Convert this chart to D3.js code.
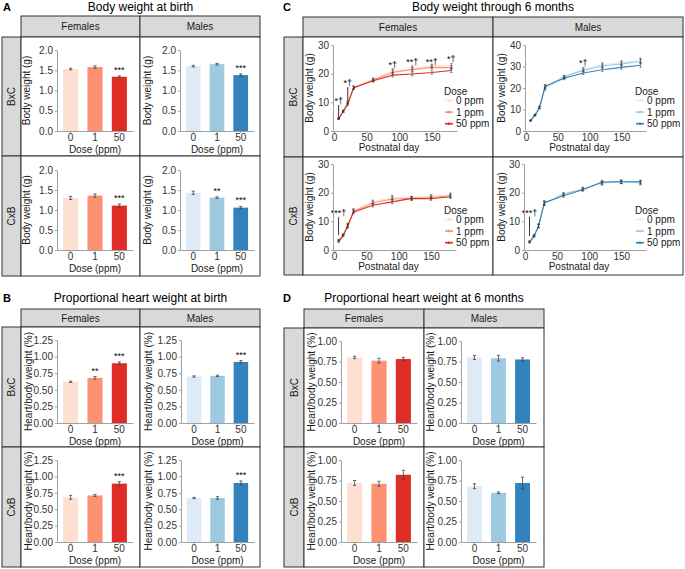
<!DOCTYPE html>
<html><head><meta charset="utf-8">
<script src="https://cdn.jsdelivr.net/npm/d3@7"></script>
<style>body{margin:0;background:#fff} svg{display:block;font-family:"Liberation Sans",Arial,sans-serif}</style>
</head><body><svg id="c" width="685" height="569"></svg>
<script>
// ---------------- DATA ----------------
const doses = ["0", "1", "50"];
const doseLabels = ["0 ppm", "1 ppm", "50 ppm"];
const sexes = ["Females", "Males"];
const strains = ["BxC", "CxB"];
const redColors = ["#fee0d2", "#fc9272", "#de2d26"];
const blueColors = ["#deebf7", "#9ecae1", "#3182bd"];

// A: body weight at birth (g)
const aBxCFemales = [1.53, 1.58, 1.34];
const aBxCFemalesErr = [0.02, 0.03, 0.02];
const aBxCFemalesSig = ["", "", "***"];
const aBxCMales = [1.60, 1.65, 1.38];
const aBxCMalesErr = [0.02, 0.02, 0.03];
const aBxCMalesSig = ["", "", "***"];
const aCxBFemales = [1.30, 1.36, 1.11];
const aCxBFemalesErr = [0.04, 0.04, 0.04];
const aCxBFemalesSig = ["", "", "***"];
const aCxBMales = [1.43, 1.31, 1.06];
const aCxBMalesErr = [0.04, 0.02, 0.03];
const aCxBMalesSig = ["", "**", "***"];
const aTicks = [0, 0.5, 1.0, 1.5, 2.0];

// B: proportional heart weight at birth (%)
const bBxCFemales = [0.62, 0.68, 0.90];
const bBxCFemalesErr = [0.01, 0.02, 0.02];
const bBxCFemalesSig = ["", "**", "***"];
const bBxCMales = [0.70, 0.71, 0.92];
const bBxCMalesErr = [0.01, 0.01, 0.02];
const bBxCMalesSig = ["", "", "***"];
const bCxBFemales = [0.68, 0.71, 0.89];
const bCxBFemalesErr = [0.03, 0.015, 0.03];
const bCxBFemalesSig = ["", "", "***"];
const bCxBMales = [0.67, 0.67, 0.90];
const bCxBMalesErr = [0.01, 0.02, 0.03];
const bCxBMalesSig = ["", "", "***"];
const bTicks = [0, 0.25, 0.5, 0.75, 1.0, 1.25];

// C: body weight through 6 months (g)
const days = [7, 14, 21, 30, 60, 90, 120, 150, 180];
const cBxCFemales0 = [4.4, 7.0, 10.2, 15.2, 18.0, 21.0, 22.0, 22.7, 22.8];
const cBxCFemales1 = [4.3, 6.9, 9.9, 15.0, 17.8, 20.5, 21.4, 22.2, 22.1];
const cBxCFemales50 = [4.2, 6.8, 9.3, 15.1, 17.5, 19.5, 19.9, 20.4, 21.1];
const cBxCFemalesErr = [0.2, 0.3, 0.5, 0.5, 0.5, 0.7, 0.7, 0.6, 0.7];
const cBxCMales0 = [4.9, 7.5, 11.0, 19.8, 25.0, 28.8, 30.8, 31.8, 32.9];
const cBxCMales1 = [4.9, 7.4, 11.0, 20.5, 25.3, 28.2, 30.2, 31.2, 32.3];
const cBxCMales50 = [4.8, 7.3, 10.7, 20.8, 24.5, 27.0, 28.5, 29.6, 30.6];
const cBxCMalesErr = [0.2, 0.3, 0.5, 0.8, 0.6, 0.7, 0.9, 0.9, 1.0];
const cCxBFemales0 = [3.5, 5.3, 8.7, 13.8, 16.8, 18.3, 18.1, 18.7, 19.3];
const cCxBFemales1 = [3.3, 5.2, 8.5, 13.5, 16.4, 17.8, 18.0, 18.3, 18.9];
const cCxBFemales50 = [2.8, 5.0, 8.2, 13.2, 15.6, 16.8, 18.0, 17.9, 18.6];
const cCxBFemalesErr = [0.2, 0.3, 0.6, 0.6, 0.6, 0.7, 0.6, 0.6, 0.6];
const cCxBMales0 = [3.0, 5.0, 8.5, 16.3, 19.3, 21.4, 23.2, 23.7, 23.3];
const cCxBMales1 = [2.9, 5.0, 8.4, 16.2, 19.6, 21.2, 23.5, 23.8, 23.6];
const cCxBMales50 = [2.6, 4.8, 8.3, 16.5, 18.9, 21.0, 23.7, 23.8, 23.8];
const cCxBMalesErr = [0.2, 0.3, 0.6, 0.7, 0.5, 0.5, 0.6, 0.6, 0.6];
const cXTicks = [0, 50, 100, 150];
const cTicks30 = [0, 10, 20, 30];
const cTicks40 = [0, 10, 20, 30, 40];
// significance annotations (day, label, label value, bracket from/to value)
const cBxCFemalesSig = [
  {day: 7, label: "*\u2020", at: 10.8, from: 9.1, to: 4.6},
  {day: 21, label: "*\u2020", at: 17.1, from: 15.3, to: 10.9},
  {day: 90, label: "*\u2020", at: 23.4},
  {day: 120, label: "**\u2020", at: 24.4},
  {day: 150, label: "**\u2020", at: 24.4},
  {day: 180, label: "*\u2020", at: 25.5}
];
const cBxCMalesSig = [{day: 90, label: "*\u2020", at: 32.2}];
const cCxBFemalesSig = [{day: 7, label: "***\u2020", at: 13.3, from: 11.5, to: 5.2}];
const cCxBMalesSig = [{day: 7, label: "***\u2020", at: 13.3, from: 11.6, to: 4.9}];

// D: proportional heart weight at 6 months (%)
const dBxCFemales = [0.80, 0.76, 0.78];
const dBxCFemalesErr = [0.015, 0.03, 0.02];
const dBxCMales = [0.80, 0.79, 0.775];
const dBxCMalesErr = [0.025, 0.035, 0.02];
const dCxBFemales = [0.72, 0.71, 0.82];
const dCxBFemalesErr = [0.03, 0.03, 0.055];
const dCxBMales = [0.68, 0.60, 0.72];
const dCxBMalesErr = [0.03, 0.01, 0.07];
const dTicks = [0, 0.25, 0.5, 0.75, 1.0];
const noSig = ["", "", ""];

// ---------------- DRAWING ----------------
const svg = d3.select("#c");
const TXT = "#1a1a1a", TICK = "#333", AX = "#a0a0a0", BORDER = "#333";

function grid(cfg) {
  const g = svg.append("g");
  sexes.forEach((s, i) => {
    g.append("rect").attr("x", cfg.cols[i]).attr("y", cfg.header[0])
      .attr("width", cfg.cols[i + 1] - cfg.cols[i]).attr("height", cfg.header[1] - cfg.header[0])
      .attr("fill", "#d9d9d9").attr("stroke", BORDER);
    g.append("text").attr("x", (cfg.cols[i] + cfg.cols[i + 1]) / 2)
      .attr("y", (cfg.header[0] + cfg.header[1]) / 2 + 3.6)
      .attr("text-anchor", "middle").attr("font-size", 10).attr("fill", TXT).text(s);
  });
  strains.forEach((s, j) => {
    const r0 = cfg.rows[j], r1 = cfg.rows[j + 1];
    g.append("rect").attr("x", cfg.strip[0]).attr("y", r0)
      .attr("width", cfg.strip[1] - cfg.strip[0]).attr("height", r1 - r0)
      .attr("fill", "#d9d9d9").attr("stroke", BORDER);
    const cx = (cfg.strip[0] + cfg.strip[1]) / 2 + 3.6, cy = (r0 + r1) / 2;
    g.append("text").attr("transform", `translate(${cx},${cy}) rotate(-90)`)
      .attr("text-anchor", "middle").attr("font-size", 10).attr("fill", TXT).text(s);
    sexes.forEach((sx, i) => {
      g.append("rect").attr("x", cfg.cols[i]).attr("y", r0)
        .attr("width", cfg.cols[i + 1] - cfg.cols[i]).attr("height", r1 - r0)
        .attr("fill", "#fff").attr("stroke", BORDER);
    });
  });
  g.append("text").attr("x", cfg.letter[0]).attr("y", cfg.letter[1])
    .attr("font-size", 11).attr("font-weight", "bold").attr("fill", "#000").text(cfg.letterText);
  g.append("text").attr("x", (cfg.cols[0] + cfg.cols[2]) / 2).attr("y", cfg.letter[1])
    .attr("text-anchor", "middle").attr("font-size", 12).attr("fill", "#000").text(cfg.title);
}

function styleAxis(sel) {
  sel.select(".domain").attr("stroke", AX);
  sel.selectAll(".tick line").attr("stroke", AX);
  sel.selectAll(".tick text").attr("fill", TICK).attr("font-size", 10)
    .attr("font-family", "Liberation Sans, Arial, sans-serif");
}

function barPlot(p) {
  const g = svg.append("g");
  const x = d3.scaleBand().domain(doses).range([p.x0, p.x1]).paddingInner(0.38).paddingOuter(0.25);
  const y = d3.scaleLinear().domain([0, d3.max(p.ticks)]).range([p.y1, p.y0]);
  g.selectAll("rect.bar").data(p.values).join("rect").attr("class", "bar")
    .attr("x", (d, i) => x(doses[i])).attr("width", x.bandwidth())
    .attr("y", d => y(d)).attr("height", d => y(0) - y(d))
    .attr("fill", (d, i) => p.colors[i]);
  const cw = 1.6;
  p.values.forEach((v, i) => {
    const cx = x(doses[i]) + x.bandwidth() / 2, e = p.errs[i];
    const eg = g.append("g").attr("stroke", "#444").attr("stroke-width", 0.8);
    eg.append("line").attr("x1", cx).attr("x2", cx).attr("y1", y(v - e)).attr("y2", y(v + e));
    eg.append("line").attr("x1", cx - cw).attr("x2", cx + cw).attr("y1", y(v - e)).attr("y2", y(v - e));
    eg.append("line").attr("x1", cx - cw).attr("x2", cx + cw).attr("y1", y(v + e)).attr("y2", y(v + e));
    if (p.sig[i]) g.append("text").attr("x", cx).attr("y", y(v + e) - 3)
      .attr("text-anchor", "middle").attr("font-size", 9).attr("fill", "#000").text(p.sig[i]);
  });
  g.append("g").attr("transform", `translate(${p.x0},0)`)
    .call(d3.axisLeft(y).tickValues(p.ticks).tickFormat(d3.format(p.fmt)).tickSize(2).tickSizeOuter(0).tickPadding(2))
    .call(styleAxis);
  g.append("g").attr("transform", `translate(0,${p.y1})`)
    .call(d3.axisBottom(x).tickSize(2).tickSizeOuter(0).tickPadding(1))
    .call(styleAxis);
  g.append("text").attr("x", (p.x0 + p.x1) / 2).attr("y", p.y1 + 22)
    .attr("text-anchor", "middle").attr("font-size", 10).attr("fill", TXT).text("Dose (ppm)");
  g.append("text").attr("transform", `translate(${p.ylx},${(p.y0 + p.y1) / 2}) rotate(-90)`)
    .attr("text-anchor", "middle").attr("font-size", 10).attr("fill", TXT).text(p.ylabel);
}

function linePlot(p) {
  const g = svg.append("g");
  const ext = d3.extent(days), pad = (ext[1] - ext[0]) * 0.05;
  const x = d3.scaleLinear().domain([ext[0] - pad, ext[1] + pad]).range([p.x0, p.x1]);
  const y = d3.scaleLinear().domain([0, d3.max(p.ticks)]).range([p.y1, p.y0]);
  const line = d3.line().x((d, i) => x(days[i])).y(d => y(d));
  p.series.forEach((s, k) => {
    g.append("path").datum(s).attr("d", line).attr("fill", "none")
      .attr("stroke", p.colors[k]).attr("stroke-width", 1.1);
  });
  const cw = 1.3;
  p.series.forEach((s) => {
    s.forEach((v, i) => {
      const cx = x(days[i]), e = p.errs[i];
      const eg = g.append("g").attr("stroke", "#333").attr("stroke-width", 0.5);
      eg.append("line").attr("x1", cx).attr("x2", cx).attr("y1", y(v - e)).attr("y2", y(v + e));
      eg.append("line").attr("x1", cx - cw).attr("x2", cx + cw).attr("y1", y(v - e)).attr("y2", y(v - e));
      eg.append("line").attr("x1", cx - cw).attr("x2", cx + cw).attr("y1", y(v + e)).attr("y2", y(v + e));
    });
  });
  p.sig.forEach(a => {
    g.append("text").attr("x", x(a.day)).attr("y", y(a.at) + 4)
      .attr("text-anchor", "middle").attr("font-size", 9).attr("fill", "#000").text(a.label);
    if (a.from !== undefined) g.append("line").attr("x1", x(a.day)).attr("x2", x(a.day))
      .attr("y1", y(a.from)).attr("y2", y(a.to)).attr("stroke", "#000").attr("stroke-width", 0.8);
  });
  g.append("g").attr("transform", `translate(${p.x0},0)`)
    .call(d3.axisLeft(y).tickValues(p.ticks).tickSize(2).tickSizeOuter(0).tickPadding(2))
    .call(styleAxis);
  g.append("g").attr("transform", `translate(0,${p.y1})`)
    .call(d3.axisBottom(x).tickValues(cXTicks).tickSize(2).tickSizeOuter(0).tickPadding(1))
    .call(styleAxis);
  g.append("text").attr("x", (p.x0 + p.x1) / 2 - 6).attr("y", p.y1 + 20)
    .attr("text-anchor", "middle").attr("font-size", 10).attr("fill", TXT).text("Postnatal day");
  g.append("text").attr("transform", `translate(${p.ylx},${(p.y0 + p.y1) / 2}) rotate(-90)`)
    .attr("text-anchor", "middle").attr("font-size", 10).attr("fill", TXT).text("Body weight (g)");
  // legend
  const lg = g.append("g").attr("transform", `translate(${p.lx},${p.ly})`);
  lg.append("text").attr("x", 0).attr("y", 3.6).attr("font-size", 10).attr("fill", TXT).text("Dose");
  doseLabels.forEach((d, k) => {
    const yy = 9.5 + k * 11.6;
    lg.append("line").attr("x1", 1).attr("x2", 9).attr("y1", yy).attr("y2", yy)
      .attr("stroke", p.colors[k]).attr("stroke-width", 1.6);
    lg.append("circle").attr("cx", 5).attr("cy", yy).attr("r", 1.3).attr("fill", p.colors[k]);
    lg.append("text").attr("x", 12).attr("y", yy + 3.6).attr("font-size", 10).attr("fill", TXT).text(d);
  });
}

// ---- Panel A ----
grid({strip: [2, 21], cols: [21, 140, 260], header: [16, 37], rows: [37, 156, 276],
      letter: [3, 10.5], letterText: "A", title: "Body weight at birth"});
barPlot({values: aBxCFemales, errs: aBxCFemalesErr, sig: aBxCFemalesSig, colors: redColors,
  x0: 57, x1: 133, y0: 50, y1: 131, ticks: aTicks, fmt: ".1f", ylabel: "Body weight (g)", ylx: 30});
barPlot({values: aBxCMales, errs: aBxCMalesErr, sig: aBxCMalesSig, colors: blueColors,
  x0: 180, x1: 254, y0: 50, y1: 131, ticks: aTicks, fmt: ".1f", ylabel: "Body weight (g)", ylx: 151});
barPlot({values: aCxBFemales, errs: aCxBFemalesErr, sig: aCxBFemalesSig, colors: redColors,
  x0: 57, x1: 133, y0: 170, y1: 250, ticks: aTicks, fmt: ".1f", ylabel: "Body weight (g)", ylx: 30});
barPlot({values: aCxBMales, errs: aCxBMalesErr, sig: aCxBMalesSig, colors: blueColors,
  x0: 180, x1: 254, y0: 170, y1: 250, ticks: aTicks, fmt: ".1f", ylabel: "Body weight (g)", ylx: 151});

// ---- Panel B ----
grid({strip: [2, 21], cols: [21, 140, 260], header: [309, 327], rows: [327, 447, 567],
      letter: [3, 301.5], letterText: "B", title: "Proportional heart weight at birth"});
barPlot({values: bBxCFemales, errs: bBxCFemalesErr, sig: bBxCFemalesSig, colors: redColors,
  x0: 57, x1: 133, y0: 340, y1: 423, ticks: bTicks, fmt: ".2f", ylabel: "Heart/body weight (%)", ylx: 32});
barPlot({values: bBxCMales, errs: bBxCMalesErr, sig: bBxCMalesSig, colors: blueColors,
  x0: 181, x1: 254, y0: 340, y1: 423, ticks: bTicks, fmt: ".2f", ylabel: "Heart/body weight (%)", ylx: 152});
barPlot({values: bCxBFemales, errs: bCxBFemalesErr, sig: bCxBFemalesSig, colors: redColors,
  x0: 57, x1: 133, y0: 460, y1: 542, ticks: bTicks, fmt: ".2f", ylabel: "Heart/body weight (%)", ylx: 32});
barPlot({values: bCxBMales, errs: bCxBMalesErr, sig: bCxBMalesSig, colors: blueColors,
  x0: 181, x1: 254, y0: 460, y1: 542, ticks: bTicks, fmt: ".2f", ylabel: "Heart/body weight (%)", ylx: 152});

// ---- Panel C ----
grid({strip: [284, 303], cols: [303, 493, 683], header: [17, 37], rows: [37, 157, 275],
      letter: [283, 10.5], letterText: "C", title: "Body weight through 6 months"});
linePlot({series: [cBxCFemales0, cBxCFemales1, cBxCFemales50], errs: cBxCFemalesErr, sig: cBxCFemalesSig,
  colors: redColors, x0: 333, x1: 457, y0: 45, y1: 131, ticks: cTicks30, ylx: 313, lx: 444, ly: 91});
linePlot({series: [cBxCMales0, cBxCMales1, cBxCMales50], errs: cBxCMalesErr, sig: cBxCMalesSig,
  colors: blueColors, x0: 525, x1: 646, y0: 45, y1: 131, ticks: cTicks40, ylx: 505, lx: 635, ly: 91});
linePlot({series: [cCxBFemales0, cCxBFemales1, cCxBFemales50], errs: cCxBFemalesErr, sig: cCxBFemalesSig,
  colors: redColors, x0: 333, x1: 456, y0: 164, y1: 250, ticks: cTicks30, ylx: 313, lx: 444, ly: 210});
linePlot({series: [cCxBMales0, cCxBMales1, cCxBMales50], errs: cCxBMalesErr, sig: cCxBMalesSig,
  colors: blueColors, x0: 524, x1: 646, y0: 164, y1: 250, ticks: cTicks30, ylx: 505, lx: 635, ly: 210});

// ---- Panel D ----
grid({strip: [284, 304], cols: [304, 424, 544], header: [309, 328], rows: [328, 447, 567],
      letter: [283, 301.5], letterText: "D", title: "Proportional heart weight at 6 months"});
barPlot({values: dBxCFemales, errs: dBxCFemalesErr, sig: noSig, colors: redColors,
  x0: 341, x1: 417, y0: 341, y1: 423, ticks: dTicks, fmt: ".2f", ylabel: "Heart/body weight (%)", ylx: 315});
barPlot({values: dBxCMales, errs: dBxCMalesErr, sig: noSig, colors: blueColors,
  x0: 461, x1: 536, y0: 341, y1: 423, ticks: dTicks, fmt: ".2f", ylabel: "Heart/body weight (%)", ylx: 434});
barPlot({values: dCxBFemales, errs: dCxBFemalesErr, sig: noSig, colors: redColors,
  x0: 341, x1: 417, y0: 460, y1: 542, ticks: dTicks, fmt: ".2f", ylabel: "Heart/body weight (%)", ylx: 315});
barPlot({values: dCxBMales, errs: dCxBMalesErr, sig: noSig, colors: blueColors,
  x0: 461, x1: 536, y0: 460, y1: 542, ticks: dTicks, fmt: ".2f", ylabel: "Heart/body weight (%)", ylx: 434});
</script>
</body></html>
